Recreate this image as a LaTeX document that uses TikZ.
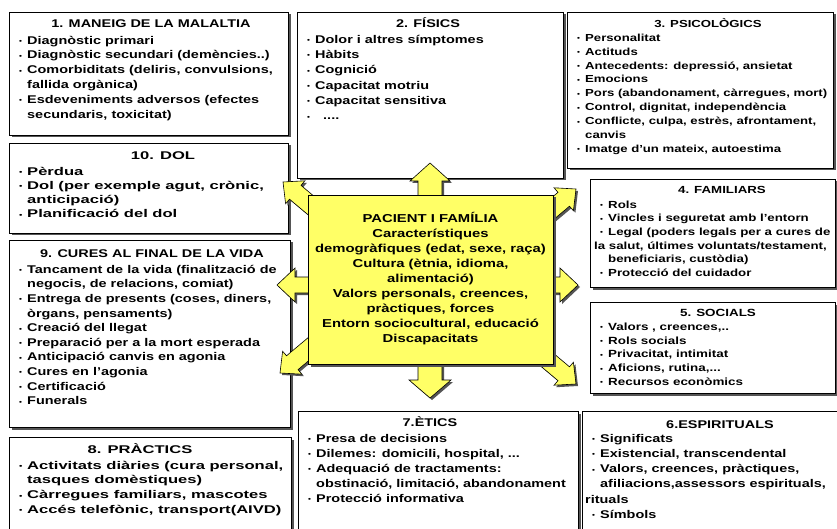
\documentclass[tikz,border=0pt]{standalone}
\usepackage{fontspec}
\setmainfont{Liberation Sans}
\newfontfamily\fA[FakeStretch=1.29]{Liberation Sans Bold}
\newfontfamily\fB[FakeStretch=1.48]{Liberation Sans Bold}
\usetikzlibrary{shadows}
\definecolor{ylw}{RGB}{255,255,102}
\definecolor{shd}{RGB}{85,85,85}
\newcommand\fa[2]{\fA\fontsize{#1}{#2}\selectfont}
\newcommand\fb[2]{\fB\fontsize{#1}{#2}\selectfont}
\newcommand\bl{\makebox[8pt][l]{\raisebox{0.6pt}{\fontsize{6.5}{6.5}\selectfont\textbullet}}}
\newcommand\ct{\hspace*{8pt}}
\tikzset{
 panel/.style={draw=black, line width=0.8pt, fill=white, inner sep=0pt, outer sep=0pt, anchor=north west,
   drop shadow={shadow xshift=2.5pt, shadow yshift=-2.5pt, fill=shd, opacity=1}},
 ttl/.style={anchor=base, inner sep=0pt},
 items/.style={anchor=north west, inner sep=0pt, align=left},
 barrow/.style={draw=black, line width=0.6pt, fill=ylw, line join=miter},
}
\newcommand\panel[5]{\node[panel, minimum width={#4-#2}, minimum height={#5-#3}] (#1) at (#2,#3) {};}
\newcommand\barr[6]{%
 \fill[shd, shift={(#1)}, xshift=2pt, yshift=-2pt, rotate=#2] (0,0) -- (-#6,#5) -- (-#6,#4) -- (-#3,#4) -- (-#3,-#4) -- (-#6,-#4) -- (-#6,-#5) -- cycle;
 \draw[barrow, shift={(#1)}, rotate=#2] (0,0) -- (-#6,#5) -- (-#6,#4) -- (-#3,#4) -- (-#3,-#4) -- (-#6,-#4) -- (-#6,-#5) -- cycle;}
\begin{document}
\begin{tikzpicture}[x=1pt,y=-1pt]
\useasboundingbox (0,0) rectangle (837,529);
\clip (0,0) rectangle (837,529);
\fill[white] (0,0) rectangle (837,529);

% ---------- panels ----------
\panel{b1}{9}{12}{288}{135}
\node[ttl, font={\fa{11.2}{14.8}}] (b1t) at (151,28) {1. MANEIG DE LA MALALTIA};
\node[items, font={\fa{11.2}{14.8}}] (b1i) at (19,33.6) {\strut\bl Diagnòstic primari\\
\bl Diagnòstic secundari (demències..)\\
\bl Comorbiditats (deliris, convulsions,\\
\ct fallida orgànica)\\
\bl Esdeveniments adversos (efectes\\
\ct secundaris, toxicitat)};

\panel{b2}{297}{12}{563}{178}
\node[ttl, font={\fa{11.2}{15.3}}] (b2t) at (428,28) {2. FÍSICS};
\node[items, font={\fa{11.2}{15.3}}] (b2i) at (307,32.3) {\strut\bl Dolor i altres símptomes\\
\bl Hàbits\\
\bl Cognició\\
\bl Capacitat motriu\\
\bl Capacitat sensitiva\\
\bl\ \ ....};

\panel{b3}{567}{12}{833}{168}
\node[ttl, font={\fa{10.2}{13.9}}] (b3t) at (708,28) {3. PSICOLÒGICS};
\node[items, font={\fa{10.2}{13.9}}] (b3i) at (577,31.3) {\strut\bl Personalitat\\
\bl Actituds\\
\bl Antecedents: depressió, ansietat\\
\bl Emocions\\
\bl Pors (abandonament, càrregues, mort)\\
\bl Control, dignitat, independència\\
\bl Conflicte, culpa, estrès, afrontament,\\
\ct canvis\\
\bl Imatge d’un mateix, autoestima};

\panel{b10}{9}{143}{288}{233}
\node[ttl, font={\fb{11.2}{14.2}}] (b10t) at (163,160) {10. DOL};
\node[items, font={\fb{11.2}{14.2}}] (b10i) at (19,165.1) {\strut\bl Pèrdua\\
\bl Dol (per exemple agut, crònic,\\
\ct anticipació)\\
\bl Planificació del dol};

\panel{b9}{9}{240}{290}{427}
\node[ttl, font={\fa{11.2}{14.6}}] (b9t) at (152,257) {9. CURES AL FINAL DE LA VIDA};
\node[items, font={\fa{11.2}{14.6}}] (b9i) at (19,262.8) {\strut\bl Tancament de la vida (finalització de\\
\ct negocis, de relacions, comiat)\\
\bl Entrega de presents (coses, diners,\\
\ct òrgans, pensaments)\\
\bl Creació del llegat\\
\bl Preparació per a la mort esperada\\
\bl Anticipació canvis en agonia\\
\bl Cures en l’agonia\\
\bl Certificació\\
\bl Funerals};

\panel{b8}{9}{437}{291}{545}
\node[ttl, font={\fb{11.2}{14.8}}] (b8t) at (140,453) {8. PRÀCTICS};
\node[items, font={\fb{11.2}{14.8}}] (b8i) at (19,458.6) {\strut\bl Activitats diàries (cura personal,\\
\ct tasques domèstiques)\\
\bl Càrregues familiars, mascotes\\
\bl Accés telefònic, transport(AIVD)};

\panel{b7}{298}{411}{578}{545}
\node[ttl, font={\fa{11.2}{15}}] (b7t) at (430,426) {7.ÈTICS};
\node[items, font={\fa{11.2}{15}}] (b7i) at (308,431.5) {\strut\bl Presa de decisions\\
\bl Dilemes: domicili, hospital, ...\\
\bl Adequació de tractaments:\\
\ct obstinació, limitació, abandonament\\
\bl Protecció informativa};

\panel{b6}{582}{411}{845}{545}
\node[ttl, font={\fa{11.2}{15.2}}] (b6t) at (720,428) {6.ESPIRITUALS};
\node[items, font={\fa{11.2}{15.2}}] (b6i) at (592,431.4) {\strut\bl Significats\\
\bl Existencial, transcendental\\
\bl Valors, creences, pràctiques,\\
\ct afiliacions,assessors espirituals,\\
\hspace*{-7pt}rituals\\
\bl Símbols};

\panel{b5}{590}{302}{835}{393}
\node[ttl, font={\fa{10.4}{13.8}}] (b5t) at (718,316) {5. SOCIALS};
\node[items, font={\fa{10.4}{13.8}}] (b5i) at (600,320.4) {\strut\bl Valors , creences,..\\
\bl Rols socials\\
\bl Privacitat, intimitat\\
\bl Aficions, rutina,...\\
\bl Recursos econòmics};

\panel{b4}{590}{179}{835}{287}
\node[ttl, font={\fa{10.3}{13.6}}] (b4t) at (722,194) {4. FAMILIARS};
\node[items, font={\fa{10.3}{13.6}}] (b4i) at (600,198.5) {\strut\bl Rols\\
\bl Vincles i seguretat amb l’entorn\\
\bl Legal (poders legals per a cures de\\
\hspace*{-6pt}la salut, últimes voluntats/testament,\\
\ct beneficiaris, custòdia)\\
\bl Protecció del cuidador};

% ---------- arrows ----------
\coordinate (tU) at (430,163);
\coordinate (tD) at (430,398);
\coordinate (tL) at (277,285);
\coordinate (tR) at (578,285);
\coordinate (tUL) at (283,182);
\coordinate (tUR) at (576,189);
\coordinate (tDL) at (280,373);
\coordinate (tDR) at (576,384);
\barr{tU}{90}{45}{12}{20}{18}
\barr{tD}{-90}{45}{12}{21}{18}
\barr{tL}{180}{45}{8}{17}{18}
\barr{tR}{0}{45}{8}{17}{18}
\barr{tUL}{140}{50}{9}{15}{16}
\barr{tUR}{40}{50}{9}{15}{16}
\barr{tDL}{220}{50}{9}{15}{16}
\barr{tDR}{-40}{50}{9}{15}{16}

% ---------- centre ----------
\node[panel, fill=ylw, minimum width=245, minimum height=169] (pf) at (308,195) {};
\node[anchor=north, inner sep=0pt, align=center, font={\fa{11.5}{15.1}}] (pft) at (430.5,211.4) {\strut PACIENT I FAMÍLIA\\
Característiques\\
demogràfiques (edat, sexe, raça)\\
Cultura (ètnia, idioma,\\
alimentació)\\
Valors personals, creences,\\
pràctiques, forces\\
Entorn sociocultural, educació\\
Discapacitats};
\end{tikzpicture}
\end{document}
